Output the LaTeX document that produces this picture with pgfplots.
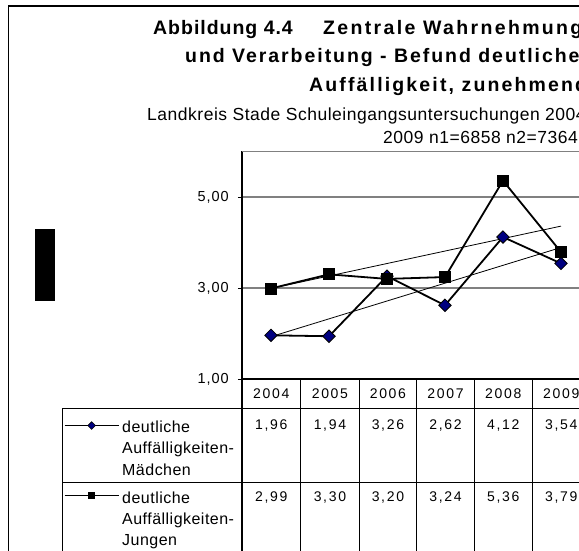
\documentclass[border=0pt]{standalone}
\usepackage{fontspec}
\setmainfont{Liberation Sans}
\newfontfamily\ttlfont[LetterSpace=10]{Liberation Sans}
\newfontfamily\ttlfontA[LetterSpace=5]{Liberation Sans}
\newfontfamily\ttlfontB[LetterSpace=12]{Liberation Sans}
\newfontfamily\ttlfontC[LetterSpace=11]{Liberation Sans}
\newfontfamily\subfont[LetterSpace=3]{Liberation Sans}
\newfontfamily\numfont[LetterSpace=12]{Liberation Sans}
\newfontfamily\tickfont[LetterSpace=7]{Liberation Sans}
\newfontfamily\lgfont[LetterSpace=3]{Liberation Sans}
\usepackage{pgfplots}
\pgfplotsset{compat=1.18}
\pgfplotsset{longlegend/.style={legend image code/.code={\draw[mark repeat=2,mark phase=2,##1] plot coordinates {(0pt,0pt) (27pt,0pt) (54pt,0pt)};}}}
\definecolor{navy}{RGB}{0,0,128}
\definecolor{gridgray}{RGB}{128,128,128}
\begin{document}
\begin{tikzpicture}[x=1pt,y=1pt]
\useasboundingbox (0,0) rectangle (579,551);
\clip (0,0) rectangle (579,551);
% outer frame
\draw[black, line width=1.2pt] (8.5,-5) -- (8.5,545) -- (600,545);
% redaction box
\fill[black] (35,250.3) rectangle (55,322);
% titles
\node[anchor=base west, inner sep=0pt, font=\fontsize{19.5}{24}\ttlfontA\bfseries\selectfont] at (153,516.5) {Abbildung 4.4};
\node[anchor=base west, inner sep=0pt, font=\fontsize{19.5}{24}\ttlfontB\bfseries\selectfont] at (323,516.5) {Zentrale Wahrnehmung};
\node[anchor=base west, inner sep=0pt, font=\fontsize{19.5}{24}\ttlfont\bfseries\selectfont] at (185,488) {und Verarbeitung - Befund deutliche};
\node[anchor=base west, inner sep=0pt, font=\fontsize{19.5}{24}\ttlfontC\bfseries\selectfont] at (309,459.5) {Auffälligkeit, zunehmend};
\node[anchor=base west, inner sep=0pt, font=\fontsize{17.5}{20}\subfont\selectfont] at (147,430.5) {Landkreis Stade Schuleingangsuntersuchungen 2004-};
\node[anchor=base west, inner sep=0pt, font=\fontsize{17.5}{20}\subfont\selectfont] at (383,407) {2009 n1=6858 n2=7364};
\begin{scope}[shift={(242pt,172pt)}]
\begin{axis}[
  scale only axis, width=348pt, height=227.5pt,
  xmin=-0.5, xmax=5.5, ymin=1, ymax=6,
  xtick=\empty,
  ytick={1,3,5}, yticklabels={{1,00},{3,00},{5,00}},
  ytick pos=left, tick align=outside, major tick length=4pt,
  tick style={black, line width=0.8pt},
  ymajorgrids, grid style={gridgray, line width=1.2pt},
  axis line style={draw=none},
  yticklabel style={font=\fontsize{14.5}{16}\tickfont\selectfont, anchor=east, inner sep=0pt, xshift=-9pt},
  clip=false,
  legend cell align=left,
  legend style={at={(-0.5115,-0.1877)}, anchor=north west, draw=none, fill=none, inner sep=0pt, outer sep=0pt,
    row sep=63.4pt, nodes={inner sep=0pt, outer sep=0pt, text depth=0pt},
    /tikz/every even column/.append style={column sep=0pt}},
]
\addplot[black, line width=1.8pt, mark=square*, mark size=4.4pt,
  mark options={rotate=45, fill=navy, draw=black, line width=0.8pt}, forget plot]
  coordinates {(0,1.96) (1,1.94) (2,3.26) (3,2.62) (4,4.12) (5,3.54)};
\addplot[black, line width=1.8pt, mark=square*, mark size=5.5pt,
  mark options={fill=black, draw=black, line width=0.8pt}, forget plot]
  coordinates {(0,2.99) (1,3.30) (2,3.20) (3,3.24) (4,5.36) (5,3.79)};
\addplot[black, line width=0.8pt, forget plot] coordinates {(0,1.93) (5,3.89)};
\addplot[black, line width=0.8pt, forget plot] coordinates {(0,2.99) (5,4.36)};
\addlegendimage{longlegend, black, line width=1.3pt, mark=square*, mark size=2.7pt, mark options={rotate=45, fill=navy, draw=black, line width=0.6pt}}
\addlegendentry{}
\addlegendimage{longlegend, black, line width=1.3pt, mark=square*, mark size=3pt, mark options={fill=black, draw=black}}
\addlegendentry{}
\end{axis}
\end{scope}
% legend texts
\foreach \yy/\txt in {118.5/deutliche, 97/Auffälligkeiten-, 75.8/Mädchen, 47.7/deutliche, 26.2/Auffälligkeiten-, 5/Jungen}
  \node[anchor=base west, inner sep=0pt, font=\fontsize{16}{18}\lgfont\selectfont] at (122,\yy) {\txt};
% axis lines
\draw[black, line width=1.2pt] (242,0) -- (242,399.5);
\draw[gridgray, line width=1.2pt] (242,399.5) -- (600,399.5);
\draw[black, line width=1.6pt] (242,172) -- (600,172);
% data table grid
\draw[black, line width=1pt] (62,142) -- (600,142);
\draw[black, line width=1pt] (62,68) -- (600,68);
\draw[black, line width=1pt] (62,-5) -- (62,142);
\foreach \x in {300.7,359,416.7,474.3,532.3} \draw[black, line width=1pt] (\x,-5) -- (\x,172);
% table text
\foreach \x/\yr/\a/\b in {271.3/2004/{1,96}/{2,99}, 329.9/2005/{1,94}/{3,30}, 387.9/2006/{3,26}/{3,20}, 445.5/2007/{2,62}/{3,24}, 503.3/2008/{4,12}/{5,36}, 561.2/2009/{3,54}/{3,79}} {
  \node[anchor=base, inner sep=0pt, font=\fontsize{14}{16}\numfont\selectfont] at (\x,152.7) {\yr};
  \node[anchor=base, inner sep=0pt, font=\fontsize{14}{16}\numfont\selectfont] at (\x,121) {\a};
  \node[anchor=base, inner sep=0pt, font=\fontsize{14}{16}\numfont\selectfont] at (\x,49.3) {\b};
}
\end{tikzpicture}
\end{document}
